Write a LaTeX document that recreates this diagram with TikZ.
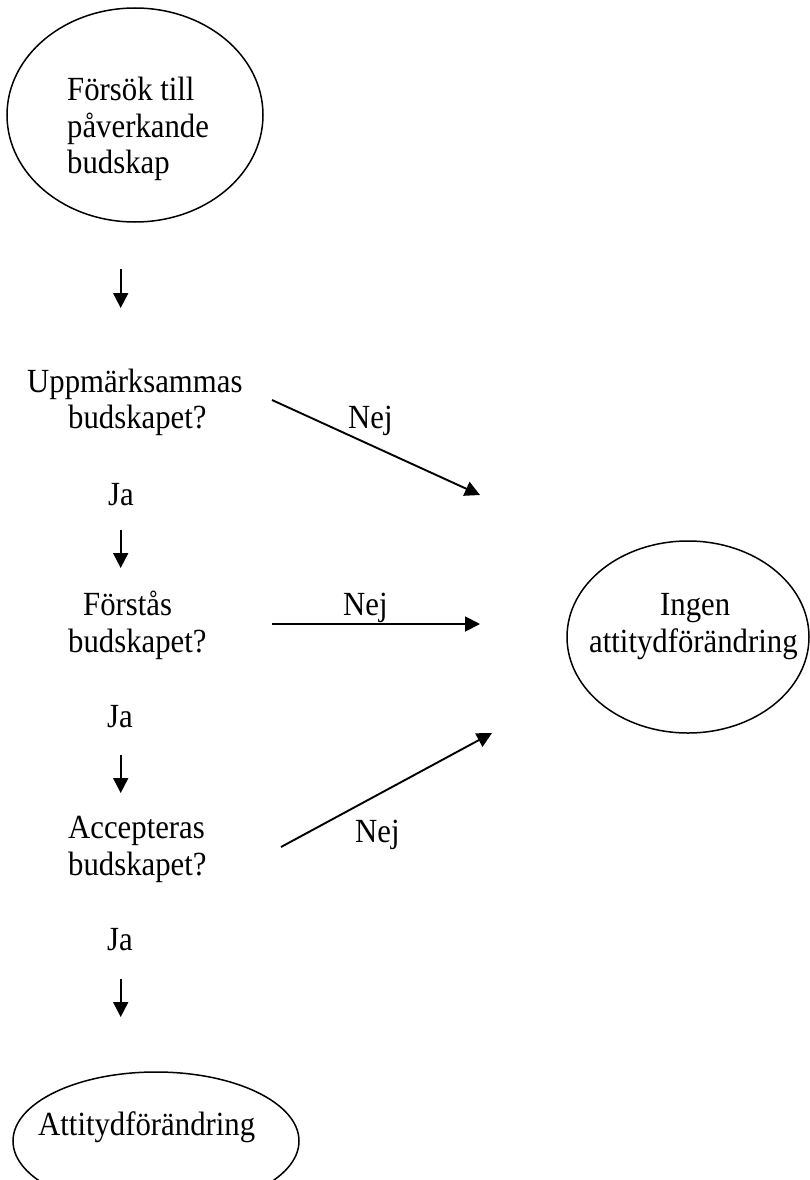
\documentclass[tikz,border=0pt]{standalone}
\usepackage{fontspec}
\setmainfont{Liberation Serif}[FakeStretch=0.91]
\usetikzlibrary{arrows.meta,shapes.geometric}
\tikzset{
  lbl/.style={inner sep=0pt, anchor=base west, font=\fontsize{33.8}{38}\selectfont},
  oval/.style={draw, ellipse, line width=1.5pt, inner sep=0pt},
  conn/.style={line width=1.9pt, -{Triangle[length=15pt,width=15pt]}}
}
\begin{document}
\begin{tikzpicture}[x=1pt,y=-1pt]
\useasboundingbox (0,0) rectangle (810,1180);
% ellipses
\node[oval, minimum width=256pt, minimum height=214pt] (start) at (135,115) {};
\node[oval, minimum width=242pt, minimum height=192pt] (none) at (688,637) {};
\node[oval, minimum width=286pt, minimum height=138pt] (change) at (156,1141) {};
% texts
\node[lbl] (s1) at (67,101) {Försök till};
\node[lbl] (s2) at (67,137) {påverkande};
\node[lbl] (s3) at (67,173) {budskap};
\node[lbl] (q1a) at (27,392) {Uppmärksammas};
\node[lbl] (q1b) at (68,428) {budskapet?};
\node[lbl] (q2a) at (83,615) {Förstås};
\node[lbl] (q2b) at (68,652) {budskapet?};
\node[lbl] (q3a) at (68,838) {Accepteras};
\node[lbl] (q3b) at (68,875) {budskapet?};
\node[lbl] (n1) at (660,615) {Ingen};
\node[lbl] (n2) at (589,652) {attitydförändring};
\node[lbl] (c1) at (38,1135) {Attitydförändring};
\node[lbl] (ja1) at (108,505) {Ja};
\node[lbl] (ja2) at (107,727) {Ja};
\node[lbl] (ja3) at (107,950) {Ja};
\node[lbl] (nej1) at (348,428) {Nej};
\node[lbl] (nej2) at (343,615) {Nej};
\node[lbl] (nej3) at (355,842) {Nej};
% arrow end points
\coordinate (a1s) at (120.7,269); \coordinate (a1e) at (120.7,308);
\coordinate (a2s) at (120.7,530); \coordinate (a2e) at (120.7,568);
\coordinate (a3s) at (120.7,755); \coordinate (a3e) at (120.7,793);
\coordinate (a4s) at (120.7,979); \coordinate (a4e) at (120.7,1017);
\coordinate (b1s) at (272,400); \coordinate (b1e) at (480,495);
\coordinate (b2s) at (272,624); \coordinate (b2e) at (480,624);
\coordinate (b3s) at (281,847); \coordinate (b3e) at (492,733);
\draw[conn] (a1s) -- (a1e);
\draw[conn] (a2s) -- (a2e);
\draw[conn] (a3s) -- (a3e);
\draw[conn] (a4s) -- (a4e);
\draw[conn] (b1s) -- (b1e);
\draw[conn] (b2s) -- (b2e);
\draw[conn] (b3s) -- (b3e);
\end{tikzpicture}
\end{document}
